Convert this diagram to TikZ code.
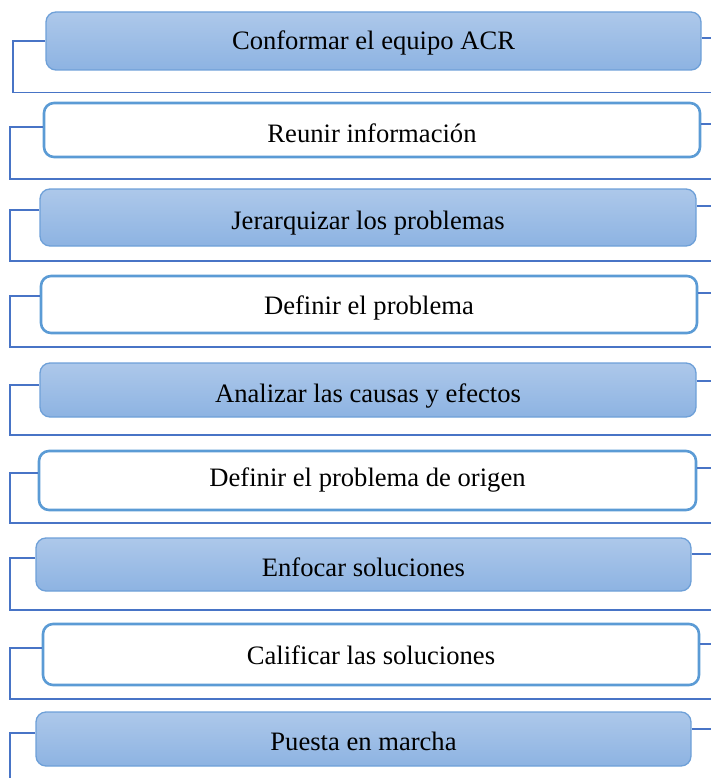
\documentclass[tikz,border=0pt]{standalone}
\usepackage{fontspec}
\setmainfont{Liberation Serif}
\definecolor{fillTop}{RGB}{173,200,234}
\definecolor{fillBot}{RGB}{141,179,226}
\definecolor{softEdge}{RGB}{110,160,216}
\definecolor{strongEdge}{RGB}{91,155,213}
\definecolor{linkLine}{RGB}{72,116,198}
\tikzset{
  stepboxbase/.style={rectangle, rounded corners=10pt, inner sep=0pt},
  bluestep/.style={stepboxbase, top color=fillTop, bottom color=fillBot,
    draw=softEdge, line width=1.3pt},
  whitestep/.style={stepboxbase, fill=white, draw=strongEdge, line width=2.6pt},
  steptext/.style={anchor=base, inner sep=0pt,
    font=\fontsize{26.6}{30}\selectfont, text=black},
  bracket/.style={draw=linkLine, line width=1.3pt},
}
\begin{document}
\begin{tikzpicture}[x=1pt,y=-1pt]
\useasboundingbox (0,0) rectangle (711,778);
% each step: style / id / left / right / top / bottom / rule x / left join y / right join y / lower rule y / baseline / text
\foreach \sty/\id/\xl/\xr/\yt/\yb/\xv/\yj/\yk/\ym/\ybl/\lab in {
  bluestep/1/46/701/12/70/13/41/38/92.5/50/Conformar el equipo ACR,
  whitestep/2/44/700/103/157/10/127/124/179/143/Reunir información,
  bluestep/3/40/696/189/246/10/210/206/261/229/Jerarquizar los problemas,
  whitestep/4/41/697/276/333/10/296/293/347/314/Definir el problema,
  bluestep/5/40/696/363/417/10/385/381/435/402/Analizar las causas y efectos,
  whitestep/6/39/696/451/510/10/473/468/523/486/Definir el problema de origen,
  bluestep/7/36/691/538/591/10/558/554/610/576/Enfocar soluciones,
  whitestep/8/43/699/624/685/10/648/644/699/664/Calificar las soluciones,
  bluestep/9/36/691/712/766/10/733/729/778/750/Puesta en marcha}
{
  \node[\sty, minimum width={\xr-\xl}, minimum height={\yb-\yt}] (b\id)
    at ({(\xl+\xr)/2},{(\yt+\yb)/2}) {};
  \node[steptext] (t\id) at ({(\xl+\xr)/2},\ybl) {\lab};
  \coordinate (a\id) at (\xv,\yj);
  \coordinate (c\id) at (\xv,\ym);
  \coordinate (e\id) at (711,\ym);
  \coordinate (r\id) at (711,\yk);
  \draw[bracket] (b\id.east |- r\id) -- (r\id);
}
% brackets on the left, each closed by a rule across the full width
\foreach \id in {1,...,8}{
  \draw[bracket] (b\id.west |- a\id) -- (a\id) -- (c\id) -- (e\id);
}
% the last bracket runs on past the lower edge
\draw[bracket] (b9.west |- a9) -- (a9) -- (c9);
\end{tikzpicture}
\end{document}
